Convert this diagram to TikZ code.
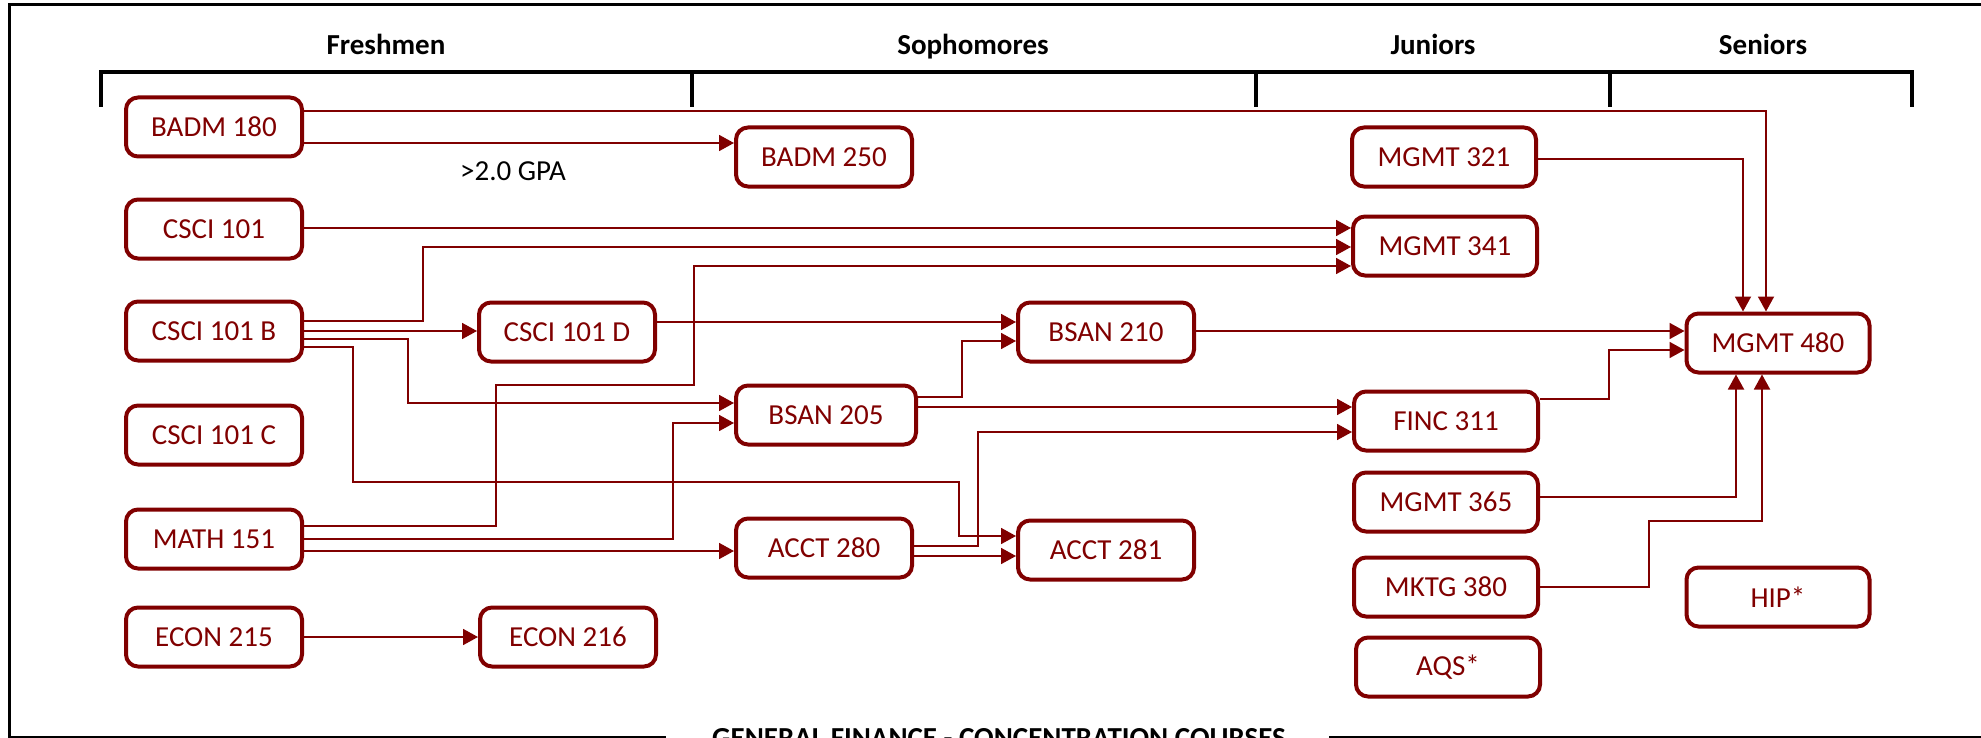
\documentclass[tikz,border=0pt]{standalone}
\usepackage{fontspec}
\setmainfont{Carlito}
\usetikzlibrary{arrows.meta}
\definecolor{crsred}{RGB}{128,0,0}
\begin{document}
\begin{tikzpicture}[x=0.5pt,y=-0.5pt,
  course/.style={draw=crsred, line width=2pt, rounded corners=6pt, text=crsred,
    minimum width=88pt, minimum height=29.5pt, inner sep=0pt,
    font=\fontsize{14.5}{17}\selectfont},
  jcol/.style={minimum width=92pt},
  scol/.style={minimum width=91.5pt},
  conn/.style={draw=crsred, line width=0.9pt, -{Triangle[length=7.5pt,width=8pt]}},
  hdr/.style={font=\bfseries\fontsize{14.5}{17}\selectfont, anchor=base},
  frameline/.style={draw=black, line width=1.5pt},
  bracket/.style={draw=black, line width=2pt},
]
\useasboundingbox (0,0) rectangle (1981,738);

% outer frame
\draw[frameline] (1981,5) -- (9,5) -- (9,737) -- (666,737);
\draw[frameline] (1329,737) -- (1981,737);
\node[hdr] (footer) at (999,747) {GENERAL FINANCE - CONCENTRATION COURSES};

% year headers
\draw[bracket] (101,107) -- (101,72) -- (1912,72) -- (1912,107);
\draw[bracket] (692,72) -- (692,107);
\draw[bracket] (1256,72) -- (1256,107);
\draw[bracket] (1610,72) -- (1610,107);
\node[hdr] (hfr) at (386,55) {Freshmen};
\node[hdr] (hso) at (973,55) {Sophomores};
\node[hdr] (hju) at (1433,55) {Juniors};
\node[hdr] (hse) at (1763,55) {Seniors};

% freshmen
\node[course] (b180) at (214,127) {BADM 180};
\node[course] (c101) at (214,229) {CSCI 101};
\node[course] (c101b) at (214,331) {CSCI 101 B};
\node[course] (c101c) at (214,435) {CSCI 101 C};
\node[course] (m151) at (214,539) {MATH 151};
\node[course] (e215) at (214,637) {ECON 215};
\node[course] (c101d) at (567,332) {CSCI 101 D};
\node[course] (e216) at (568,637) {ECON 216};

% sophomores
\node[course] (b250) at (824,157) {BADM 250};
\node[course, minimum width=90pt] (b205) at (826,415) {BSAN 205};
\node[course] (a280) at (824,548) {ACCT 280};
\node[course] (b210) at (1106,332) {BSAN 210};
\node[course] (a281) at (1106,550) {ACCT 281};

% juniors
\node[course, jcol] (m321) at (1444,157) {MGMT 321};
\node[course, jcol] (m341) at (1445,246) {MGMT 341};
\node[course, jcol] (f311) at (1446,421) {FINC 311};
\node[course, jcol] (m365) at (1446,502) {MGMT 365};
\node[course, jcol] (k380) at (1446,587) {MKTG 380};
\node[course, jcol] (aqs) at (1448,667) {AQS*};

% seniors
\node[course, scol] (m480) at (1778,343) {MGMT 480};
\node[course, scol] (hip) at (1778,597) {HIP*};

% connectors
\draw[conn] (b180.east |- 0,111) -| (m480.north -| 1766,0);
\draw[conn] (b180.east |- 0,143) -- (b250.west |- 0,143);
\node[anchor=base, font=\fontsize{14.5}{17}\selectfont] (gpa) at (513,180) {>2.0 GPA};
\draw[conn] (m321.east |- 0,159) -| (m480.north -| 1743,0);
\draw[conn] (c101.east |- 0,228) -- (m341.west |- 0,228);
\draw[conn] (c101b.east |- 0,321) -| (423,247) -- (m341.west |- 0,247);
\draw[conn] (c101b.east |- 0,331) -- (c101d.west |- 0,331);
\draw[conn] (c101b.east |- 0,339) -| (408,403) -- (b205.west |- 0,403);
\draw[conn] (c101b.east |- 0,347) -| (353,482) -| (959,536) -- (a281.west |- 0,536);
\draw[conn] (m151.east |- 0,526) -| (496,385) -| (694,266) -- (m341.west |- 0,266);
\draw[conn] (m151.east |- 0,539) -| (673,423) -- (b205.west |- 0,423);
\draw[conn] (m151.east |- 0,551) -- (a280.west |- 0,551);
\draw[conn] (e215) -- (e216);
\draw[conn] (c101d.east |- 0,322) -- (b210.west |- 0,322);
\draw[conn] (b205.east |- 0,397) -| (962,341) -- (b210.west |- 0,341);
\draw[conn] (b205.east |- 0,407) -- (f311.west |- 0,407);
\draw[conn] (a280.east |- 0,546) -| (978,432) -- (f311.west |- 0,432);
\draw[conn] (a280.east |- 0,556) -- (a281.west |- 0,556);
\draw[conn] (b210.east |- 0,331) -- (m480.west |- 0,331);
\draw[conn] (f311.east |- 0,399) -| (1609,350) -- (m480.west |- 0,350);
\draw[conn] (m365.east |- 0,497) -| (m480.south -| 1736,0);
\draw[conn] (k380.east |- 0,587) -| (1649,521) -| (m480.south -| 1762,0);
\end{tikzpicture}
\end{document}
